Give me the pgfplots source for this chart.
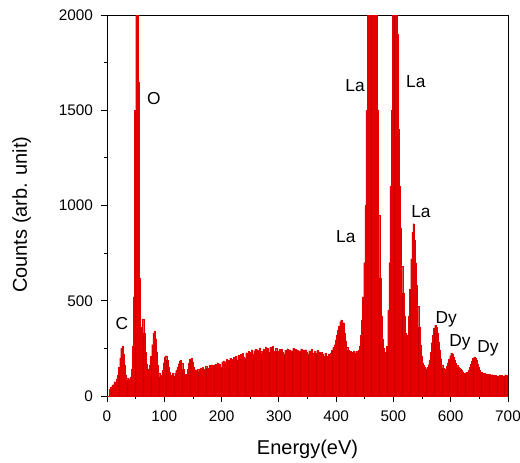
\documentclass[border=0pt]{standalone}
\usepackage{fontspec}
\setmainfont{Liberation Sans}
\usepackage{pgfplots}
\pgfplotsset{compat=1.18}
\usetikzlibrary{calc}
\definecolor{specfill}{RGB}{196,0,0}
\definecolor{specedge}{RGB}{228,0,0}

\pgfplotstableread{
E C
0 0
2 0
4 35
6 45
8 55
10 60
12 75
14 70
16 90
18 110
20 150
22 200
24 250
26 262
28 220
30 160
32 110
34 95
36 85
38 90
40 100
42 140
44 260
46 520
48 1500
50 2600
52 2600
54 1650
56 620
58 360
60 300
62 405
64 330
66 230
68 170
70 140
72 135
74 160
76 210
78 270
80 330
82 342
84 300
86 230
88 160
90 120
92 100
94 110
96 135
98 175
100 205
102 212
104 190
106 150
108 125
110 112
112 108
114 118
116 105
118 120
120 135
122 150
124 170
126 185
128 190
130 172
132 140
134 115
136 108
138 115
140 140
142 172
144 192
146 198
148 180
150 150
152 130
154 138
156 125
158 140
160 128
162 148
164 134
166 152
168 140
170 132
172 158
174 146
176 137
178 160
180 148
182 165
184 142
186 160
188 168
190 147
192 175
194 158
196 170
198 152
200 178
202 184
204 162
206 180
208 193
210 170
212 188
214 197
216 175
218 192
220 203
222 182
224 208
226 190
228 213
230 195
232 218
234 200
236 225
238 207
240 198
242 228
244 212
246 235
248 215
250 230
252 243
254 220
256 238
258 248
260 225
262 243
264 230
266 253
268 236
270 224
272 248
274 235
276 258
278 238
280 250
282 230
284 255
286 243
288 260
290 238
292 228
294 250
296 234
298 222
300 245
302 228
304 248
306 230
308 218
310 240
312 226
314 249
316 230
318 243
320 222
322 238
324 250
326 228
328 245
330 225
332 240
334 220
336 237
338 248
340 226
342 240
344 222
346 243
348 230
350 218
352 238
354 226
356 245
358 228
360 215
362 235
364 224
366 240
368 220
370 232
372 213
374 230
376 218
378 208
380 224
382 210
384 203
386 220
388 208
390 225
392 240
394 255
396 270
398 295
400 320
402 345
404 365
406 390
408 400
410 370
412 385
414 330
416 290
418 255
420 240
422 228
424 236
426 222
428 232
430 238
432 225
434 235
436 222
438 240
440 260
442 320
444 400
446 520
448 700
450 1000
452 1500
454 2400
456 3500
458 4500
460 5000
462 5000
464 4800
466 4200
468 3200
470 2300
472 1500
474 950
476 620
478 420
480 300
482 250
484 232
486 225
488 260
490 450
492 700
494 1100
496 1500
498 2000
500 2500
502 2700
504 2400
506 1900
508 1400
510 1100
512 880
514 680
516 540
518 420
520 330
522 300
524 320
526 420
528 560
530 720
532 860
534 905
536 820
538 700
540 580
542 470
544 360
546 270
548 210
550 175
552 160
554 150
556 142
558 150
560 165
562 190
564 230
566 280
568 320
570 355
572 372
574 360
576 330
578 285
580 240
582 195
584 165
586 148
588 138
590 140
592 155
594 175
596 195
598 212
600 226
602 218
604 205
606 188
608 172
610 160
612 150
614 145
616 140
618 138
620 128
622 122
624 118
626 125
628 120
630 135
632 150
634 168
636 185
638 198
640 205
642 200
644 188
646 170
648 150
650 135
652 125
654 120
656 115
658 118
660 112
662 116
664 108
666 114
668 110
670 106
672 112
674 108
676 104
678 110
680 106
682 100
684 108
686 104
688 110
690 102
692 106
694 112
696 104
698 108
700 0
}\spectrum

\begin{document}
\begin{tikzpicture}
\begin{axis}[
    name=ax,
    scale only axis,
    width=300.75pt, height=285.75pt,
    xmin=0, xmax=700, ymin=0, ymax=2000,
    xtick={0,100,...,700},
    ytick={0,500,...,2000},
    minor tick num=1,
    tick align=outside,
    xtick pos=bottom, ytick pos=left,
    major tick length=4.5pt, minor tick length=2.5pt,
    tick style={black, line width=0.6pt},
    axis line style={line width=0.6pt},
    /pgf/number format/assume math mode=true,
    scaled ticks=false,
    /pgf/number format/1000 sep={},
    ticklabel style={font=\fontsize{11.5pt}{13pt}\selectfont},
    xticklabel style={yshift=-3pt},
    yticklabel style={xshift=-2.5pt},
    xlabel={Energy(eV)},
    ylabel={Counts (arb. unit)},
    xlabel style={font=\fontsize{15pt}{17pt}\selectfont, at={(axis description cs:0.5,-0.154)}, anchor=base},
    ylabel style={font=\fontsize{15pt}{17pt}\selectfont, at={(axis description cs:-0.2,0.476)}, anchor=base, rotate=0},
    clip=true,
]
\addplot[const plot, fill=specfill, draw=none] table[x=E, y=C] {\spectrum} \closedcycle;
\addplot[ybar interval, fill=none, draw=specedge, line width=0.1pt] table[x=E, y=C] {\spectrum};
\begin{scope}[font=\fontsize{13pt}{15pt}\selectfont]
\node at (axis cs:26,383) {C};
\node at (axis cs:82,1559) {O};
\node at (axis cs:433,1627) {La};
\node at (axis cs:539,1648) {La};
\node at (axis cs:548,966) {La};
\node at (axis cs:417,835) {La};
\node at (axis cs:592,404) {Dy};
\node at (axis cs:616,283) {Dy};
\node at (axis cs:665,252) {Dy};
\end{scope}
\end{axis}
\pgfresetboundingbox
\path ($(ax.south west)+(-80.25pt,-49.5pt)$) rectangle ($(ax.south west)+(309.75pt,297pt)$);
\end{tikzpicture}
\end{document}
